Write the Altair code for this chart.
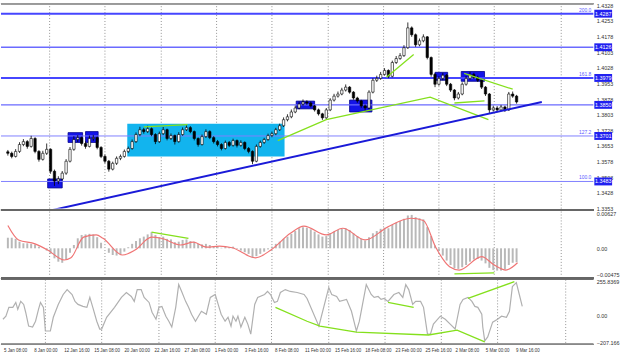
import altair as alt
import pandas as pd

# ---------------- data ----------------
first_open = 1.3625
closes = [1.3618, 1.3603, 1.3627, 1.3660, 1.3674, 1.3651, 1.3689, 1.3627, 1.3589, 1.3618,
          1.3637, 1.3532, 1.3485, 1.3495, 1.3523, 1.3580, 1.3637, 1.3684, 1.3693, 1.3665,
          1.3651, 1.3689, 1.3693, 1.3646, 1.3603, 1.3580, 1.3542, 1.3570, 1.3594, 1.3603,
          1.3627, 1.3641, 1.3674, 1.3708, 1.3731, 1.3722, 1.3736, 1.3708, 1.3674, 1.3712,
          1.3731, 1.3689, 1.3703, 1.3674, 1.3708, 1.3731, 1.3741, 1.3722, 1.3689, 1.3660,
          1.3698, 1.3722, 1.3693, 1.3674, 1.3660, 1.3641, 1.3670, 1.3656, 1.3679, 1.3656,
          1.3670, 1.3641, 1.3627, 1.3580, 1.3651, 1.3670, 1.3684, 1.3703, 1.3712, 1.3731,
          1.3750, 1.3779, 1.3793, 1.3816, 1.3835, 1.3854, 1.3864, 1.3859, 1.3845, 1.3826,
          1.3807, 1.3788, 1.3826, 1.3873, 1.3892, 1.3902, 1.3921, 1.3935, 1.3911, 1.3883,
          1.3869, 1.3845, 1.3835, 1.3911, 1.3968, 1.3977, 1.3996, 1.4015, 1.3987, 1.4053,
          1.4072, 1.4086, 1.4124, 1.4219, 1.4186, 1.4138, 1.4157, 1.4176, 1.4077, 1.3996,
          1.3949, 1.3977, 1.3992, 1.3949, 1.3921, 1.3883, 1.3902, 1.3949, 1.3977, 1.3996,
          1.3982, 1.3968, 1.3935, 1.3902, 1.3826, 1.3835, 1.3826, 1.3840, 1.3826, 1.3902,
          1.3892, 1.3864]
highs = [1.3634, 1.3626, 1.3638, 1.3671, 1.3686, 1.3681, 1.3702, 1.3695, 1.3633, 1.3630,
         1.3665, 1.3642, 1.3540, 1.3508, 1.3533, 1.3590, 1.3648, 1.3700, 1.3705, 1.3698,
         1.3675, 1.3703, 1.3706, 1.3698, 1.3652, 1.3612, 1.3586, 1.3578, 1.3603, 1.3612,
         1.3636, 1.3650, 1.3684, 1.3718, 1.3745, 1.3740, 1.3750, 1.3742, 1.3714, 1.3722,
         1.3744, 1.3736, 1.3713, 1.3708, 1.3719, 1.3742, 1.3752, 1.3748, 1.3727, 1.3694,
         1.3708, 1.3733, 1.3728, 1.3700, 1.3682, 1.3666, 1.3679, 1.3677, 1.3688, 1.3684,
         1.3680, 1.3675, 1.3648, 1.3632, 1.3660, 1.3679, 1.3692, 1.3712, 1.3722, 1.3740,
         1.3760, 1.3790, 1.3805, 1.3828, 1.3846, 1.3866, 1.3876, 1.3872, 1.3866, 1.3850,
         1.3832, 1.3812, 1.3835, 1.3882, 1.3903, 1.3914, 1.3932, 1.3948, 1.3940, 1.3916,
         1.3889, 1.3874, 1.3852, 1.3920, 1.3978, 1.3990, 1.4008, 1.4026, 1.4020, 1.4062,
         1.4084, 1.4098, 1.4136, 1.4245, 1.4226, 1.4192, 1.4168, 1.4188, 1.4180, 1.4082,
         1.4002, 1.3987, 1.4003, 1.3998, 1.3955, 1.3926, 1.3912, 1.3958, 1.3988, 1.4008,
         1.4004, 1.3990, 1.3973, 1.3940, 1.3907, 1.3846, 1.3844, 1.3850, 1.3846, 1.3912,
         1.3914, 1.3898]
lows = [1.3607, 1.3594, 1.3598, 1.3620, 1.3652, 1.3640, 1.3645, 1.3618, 1.3578, 1.3583,
        1.3610, 1.3520, 1.3462, 1.3470, 1.3488, 1.3515, 1.3574, 1.3630, 1.3672, 1.3655,
        1.3640, 1.3646, 1.3678, 1.3637, 1.3595, 1.3570, 1.3530, 1.3536, 1.3562, 1.3585,
        1.3597, 1.3619, 1.3635, 1.3668, 1.3700, 1.3712, 1.3715, 1.3700, 1.3662, 1.3668,
        1.3706, 1.3680, 1.3682, 1.3660, 1.3669, 1.3702, 1.3725, 1.3714, 1.3680, 1.3650,
        1.3655, 1.3692, 1.3686, 1.3665, 1.3651, 1.3632, 1.3636, 1.3648, 1.3650, 1.3646,
        1.3650, 1.3633, 1.3618, 1.3566, 1.3575, 1.3645, 1.3663, 1.3678, 1.3695, 1.3705,
        1.3725, 1.3744, 1.3771, 1.3786, 1.3810, 1.3829, 1.3846, 1.3850, 1.3838, 1.3818,
        1.3799, 1.3778, 1.3783, 1.3820, 1.3866, 1.3885, 1.3896, 1.3914, 1.3904, 1.3875,
        1.3860, 1.3836, 1.3822, 1.3830, 1.3905, 1.3960, 1.3970, 1.3990, 1.3978, 1.3982,
        1.4046, 1.4066, 1.4080, 1.4118, 1.4176, 1.4128, 1.4131, 1.4150, 1.4068, 1.3985,
        1.3935, 1.3942, 1.3968, 1.3940, 1.3912, 1.3872, 1.3876, 1.3896, 1.3942, 1.3970,
        1.3974, 1.3960, 1.3926, 1.3893, 1.3808, 1.3818, 1.3815, 1.3820, 1.3816, 1.3821,
        1.3884, 1.3856]

macd_hist = [0.0019, 0.0019, 0.0017, 0.0012, 0.0009, 0.0009, 0.0008, 0.0007, 0.0003, 0.0000,
             -0.0004, -0.0010, -0.0018, -0.0024, -0.0026, -0.0020, -0.0008, 0.0006, 0.0018, 0.0024,
             0.0025, 0.0026, 0.0025, 0.0020, 0.0010, 0.0000, -0.0008, -0.0012, -0.0013, -0.0011,
             -0.0006, 0.0002, 0.0008, 0.0013, 0.0018, 0.0021, 0.0025, 0.0029, 0.0024, 0.0020,
             0.0021, 0.0017, 0.0016, 0.0011, 0.0012, 0.0015, 0.0016, 0.0013, 0.0012, 0.0008,
             0.0007, 0.0008, 0.0006, 0.0004, 0.0003, 0.0001, 0.0003, 0.0002, 0.0003, -0.0001,
             -0.0004, -0.0007, -0.0010, -0.0017, -0.0014, -0.0010, -0.0006, -0.0002, 0.0003, 0.0008,
             0.0012, 0.0017, 0.0021, 0.0026, 0.0031, 0.0036, 0.0038, 0.0037, 0.0034, 0.0030,
             0.0025, 0.0021, 0.0022, 0.0027, 0.0030, 0.0033, 0.0035, 0.0036, 0.0033, 0.0027,
             0.0022, 0.0017, 0.0014, 0.0020, 0.0027, 0.0031, 0.0035, 0.0037, 0.0036, 0.0042,
             0.0046, 0.0049, 0.0053, 0.0059, 0.0060, 0.0056, 0.0054, 0.0052, 0.0038, 0.0022,
             0.0005, -0.0005, -0.0013, -0.0022, -0.0030, -0.0036, -0.0037, -0.0034, -0.0030, -0.0024,
             -0.0020, -0.0019, -0.0022, -0.0027, -0.0035, -0.0039, -0.0040, -0.0040, -0.0038, -0.0030,
             -0.0026, -0.0025]

signal_i = [0, 2.75, 7, 10.25, 14.5, 16.25, 19.5, 22.75, 24.5, 29.5, 32.75, 37, 39.5, 44.5,
            47.75, 51.25, 54.5, 57.75, 63.75, 67.75, 72.75, 76.25, 82, 86.25, 92, 97.75,
            103.75, 107, 110.25, 113.75, 116.25, 122, 125.25, 128.25, 131.25]
signal_v = [0.0041, 0.0015, 0.0008, -0.0003, -0.0021, -0.0017, 0.0020, 0.0024, 0.0018, -0.0012,
            -0.0003, 0.0020, 0.0018, 0.0006, 0.0011, 0.0002, 0.0004, 0.0001, -0.0017, -0.0003,
            0.0027, 0.0040, 0.0024, 0.0036, 0.0015, 0.0038, 0.0054, 0.0050, 0.0001, -0.0033,
            -0.0039, -0.0015, -0.0030, -0.0039, -0.0026]

cci_i = [0, 0.75, 1.5, 2.5, 3.25, 3.75, 4.5, 5.25, 5.75, 6.5, 7.5, 8.25, 9, 9.5, 10.25, 10.75,
         12, 12.75, 14, 15.25, 16.25, 17.5, 18.25, 19, 20.25, 21.25, 22, 22.75, 23.75, 24.5, 25,
         26.25, 28.25, 30, 31.25, 32.5, 33.25, 34, 35, 35.75, 37, 37.75, 38.75, 39.5, 40.25, 41.25,
         42, 42.75, 43.75, 44.5, 45.25, 46.25, 47, 47.75, 48.75, 49.5, 50.25, 51.5, 52.5, 53.75,
         54.5, 55.25, 56.25, 57, 57.75, 58.25, 59, 59.5, 60.25, 61.25, 62, 62.75, 63.75, 64.5,
         66.25, 67, 67.75, 68.75, 69.5, 70.25, 71.5, 72.75, 74.5, 76.25, 77, 80, 82.5, 83.25,
         84.5, 85.25, 87, 88.25, 89.5, 90.25, 92, 93.25, 94, 95, 95.75, 96.5, 97.5, 99, 100.25,
         101.25, 102, 102.75, 103.75, 104.5, 105.75, 106.5, 107.5, 108.25, 109, 110.75, 112,
         113.25, 114.5, 115.75, 116.5, 117.75, 118.75, 119.5, 120.25, 121.25, 121.5, 122, 122.75,
         124, 125.25, 126.25, 127.5, 128.25, 129, 130, 130.75, 131.5]
cci_v = [-28, -5, 62, 62, 99, 47, 107, 84, 25, -80, -87, -43, 47, 99, 62, -117,
         -117, -13, 84, 159, 196, 159, 107, 84, 69, 62, 137, 62, -43, -102, -102,
         -13, 62, 137, 174, 144, 107, 196, 196, 137, 99, 25, -28, 62, 69, -5,
         -43, -87, 62, 234, 182, 107, 62, 10, -43, -5, 32, 10, 137, 159,
         84, 10, -43, -13, -80, -5, -43, -5, -87, -13, -65, -140, 84, 137,
         159, 182, 159, 99, 107, 174, 196, 182, 174, 159, 129, -80, 211, 159,
         144, 107, 122, 32, -117, -43, 234, 159, 137, 144, 122, 129, 107, 159, 174,
         137, 234, 196, 84, 107, 107, 62, -140, -140, -65, -5, -28,
         -65, -102, 84, 122, 137, 107, 69, 62, 10, -87, -192, -162,
         -50, -28, -5, -13, 32, 219, 249, 159, 69]

# price levels (Fibonacci grid) and their tags
strong_levels = [1.4287, 1.3979]
medium_levels = [1.4126, 1.3850]
weak_levels = [1.3701, 1.3483]
fib_pct = ["200.0", "161.8", "127.2", "100.0"]
fib_price = [1.4287, 1.3979, 1.3701, 1.3483]
price_ticks = [1.4328, 1.4253, 1.4178, 1.4103, 1.4028, 1.3953, 1.3878, 1.3803, 1.3728,
               1.3653, 1.3578, 1.3503, 1.3428, 1.3353]

# boxes marking swing points
box_i1 = [10.25, 15.5, 20, 74.25, 88, 110, 116.75]
box_i2 = [14, 19.25, 23.25, 79, 93.75, 113.25, 122.75]
box_top = [1.3495, 1.3717, 1.3722, 1.3868, 1.3873, 1.4006, 1.4010]
box_bot = [1.3452, 1.3670, 1.3670, 1.3831, 1.3816, 1.3968, 1.3963]
range_i = [30.75, 71.25]
range_p = [1.3603, 1.3760]

trend_i = [10.75, 137.5]
trend_p = [1.3343, 1.3864]

main_green_seg = ["a", "a", "b", "b", "b", "b", "c", "c", "d", "d", "e", "e"]
main_green_i = [35, 46.25, 69.5, 82, 108.75, 123.75, 115, 122.75, 117.5, 130, 97.5, 104.5]
main_green_p = [1.3745, 1.3755, 1.3679, 1.3779, 1.3887, 1.3779, 1.3859, 1.3869, 1.4001, 1.3925,
                1.3982, 1.4091]
macd_green_seg = ["a", "a", "b", "b"]
macd_green_i = [37, 46.5, 115, 125.25]
macd_green_v = [0.0029, 0.0018, -0.0046, -0.0044]
cci_green_seg = ["a", "a", "a", "a", "a", "a", "a", "b", "b", "c", "c"]
cci_green_i = [69, 77, 80.25, 89.5, 107.75, 115, 122, 97.5, 104, 117.75, 129.5]
cci_green_v = [62, -43, -80, -125, -147, -110, -199, 99, 62, 129, 256]

week_grid = [10.75, 25, 39.5, 53.75, 68, 82.5, 96.75, 111, 125.25, 142.5]
date_labels = ["5 Jan 08:00", "8 Jan 00:00", "12 Jan 16:00", "15 Jan 08:00", "20 Jan 00:00",
               "22 Jan 16:00", "27 Jan 08:00", "1 Feb 00:00", "3 Feb 16:00", "8 Feb 08:00",
               "11 Feb 00:00", "15 Feb 16:00", "18 Feb 08:00", "23 Feb 00:00", "25 Feb 16:00",
               "2 Mar 08:00", "5 Mar 00:00", "9 Mar 16:00"]
date_pos = [0.25, 7.9, 15.5, 23.1, 30.75, 38.4, 46, 53.6, 61.25, 68.9, 76.5, 84.1, 91.75,
            99.4, 107, 114.6, 122.25, 129.9]

# ---------------- frames ----------------
n = len(closes)
opens = [first_open] + closes[:-1]
bars = pd.DataFrame({"i": list(range(n)), "open": opens, "close": closes,
                     "high": highs, "low": lows})
bars["dir"] = ["up" if c >= o else "down" for o, c in zip(opens, closes)]
macd_df = pd.DataFrame({"i": list(range(n)), "v": macd_hist})
sig_df = pd.DataFrame({"i": signal_i, "v": signal_v})
cci_df = pd.DataFrame({"i": cci_i, "v": cci_v})
grid_df = pd.DataFrame({"g": week_grid})
boxes = pd.DataFrame({"i1": box_i1, "i2": box_i2, "top": box_top, "bot": box_bot})
rng = pd.DataFrame({"i1": [range_i[0]], "i2": [range_i[1]], "top": [range_p[1]], "bot": [range_p[0]]})
trend = pd.DataFrame({"i": trend_i, "p": trend_p})
mg = pd.DataFrame({"seg": main_green_seg, "i": main_green_i, "p": main_green_p})
macdg = pd.DataFrame({"seg": macd_green_seg, "i": macd_green_i, "v": macd_green_v})
ccig = pd.DataFrame({"seg": cci_green_seg, "i": cci_green_i, "v": cci_green_v})
all_levels = strong_levels + medium_levels + weak_levels
tags = pd.DataFrame({"level": all_levels})
fibs = pd.DataFrame({"pct": fib_pct, "level": fib_price})
dates = pd.DataFrame({"i": date_pos, "label": date_labels})

W = 600
XS = alt.Scale(domain=[-0.5, 149.5], nice=False, zero=False)
FONT = "Liberation Sans"
GREEN = "#84e01c"


def X(f="i"):
    return alt.X(f"{f}:Q", scale=XS, axis=None)


PS = alt.Scale(domain=[1.3353, 1.4337], nice=False, zero=False)
p_axis = alt.Axis(orient="right", values=price_ticks, format=".4f", title=None)


def YP(f):
    return alt.Y(f"{f}:Q", scale=PS, axis=p_axis)


MS = alt.Scale(domain=[-0.0051, 0.0066], nice=False, zero=False)
m_axis = alt.Axis(orient="right", values=[0.00627, 0, -0.00475], title=None,
                  labelExpr="datum.value == 0 ? '0.00' : format(datum.value, '.5f')")


def YM(f):
    return alt.Y(f"{f}:Q", scale=MS, axis=m_axis)


CS = alt.Scale(domain=[-214, 271], nice=False, zero=False)
c_axis = alt.Axis(orient="right", values=[255.8369, 0, -207.166], title=None,
                  labelExpr="datum.value == 0 ? '0.00' : format(datum.value, '.4~f')")


def YC(f):
    return alt.Y(f"{f}:Q", scale=CS, axis=c_axis)


def grid_layer():
    return alt.Chart(grid_df).mark_rule(color="#777", strokeDash=[1, 2], strokeWidth=0.8).encode(x=X("g"))


# ---------------- main panel ----------------
top_border = alt.Chart(grid_df).mark_rule(color="#999", strokeWidth=1).encode(
    x=alt.value(0), x2=alt.value(W), y=alt.value(0.5))
range_rect = alt.Chart(rng).mark_rect(color="#12b4ee").encode(
    x=X("i1"), x2="i2", y=YP("top"), y2="bot")
box_rect = alt.Chart(boxes).mark_rect(color="#1414e8", stroke="#00008c", strokeWidth=0.8).encode(
    x=X("i1"), x2="i2", y=YP("top"), y2="bot")
lv_strong = alt.Chart(pd.DataFrame({"level": strong_levels})).mark_rule(
    color="#4646ff", strokeWidth=2).encode(y=YP("level"))
lv_medium = alt.Chart(pd.DataFrame({"level": medium_levels})).mark_rule(
    color="#6a6aff", strokeWidth=1.5).encode(y=YP("level"))
lv_weak = alt.Chart(pd.DataFrame({"level": weak_levels})).mark_rule(
    color="#8080ff", strokeWidth=1).encode(y=YP("level"))
fib_text = alt.Chart(fibs).mark_text(align="right", baseline="bottom", dy=-1, fontSize=5,
                                     font=FONT, color="#5a5aff").encode(
    x=alt.value(W - 2), y=YP("level"), text="pct:N")
wicks = alt.Chart(bars).mark_rule(color="black", strokeWidth=0.8).encode(
    x=X(), y=YP("low"), y2="high")
bodies = alt.Chart(bars).mark_bar(size=2.4, stroke="black", strokeWidth=0.6).encode(
    x=X(), y=YP("open"), y2="close",
    color=alt.Color("dir:N", scale=alt.Scale(domain=["up", "down"], range=["white", "black"]),
                    legend=None))
green_main = alt.Chart(mg).mark_line(color=GREEN, strokeWidth=1.3).encode(
    x=X(), y=YP("p"), detail="seg:N")
trend_line = alt.Chart(trend).mark_line(color="#1a1ad8", strokeWidth=2, clip=True).encode(
    x=X(), y=YP("p"))
tag_bg = alt.Chart(tags).mark_rule(color="#2020f0", strokeWidth=8).encode(
    x=alt.value(W + 1), x2=alt.value(W + 19), y=YP("level"))
tag_txt = alt.Chart(tags).mark_text(color="white", fontSize=5.5, font=FONT, align="center",
                                    baseline="middle").encode(
    x=alt.value(W + 10), y=YP("level"), text=alt.Text("level:Q", format=".4f"))

main = alt.layer(grid_layer(), top_border, range_rect, box_rect, lv_weak, lv_medium, lv_strong,
                 fib_text, wicks, bodies, green_main, trend_line, tag_bg, tag_txt).properties(
    width=W, height=208)

# ---------------- MACD panel ----------------
sep_m = alt.Chart(grid_df).mark_rule(color="#666666", strokeWidth=2).encode(
    x=alt.value(0), x2=alt.value(W), y=alt.value(-1.5))
hist = alt.Chart(macd_df).mark_bar(size=2, color="#b8b8b8").encode(
    x=X(), y=YM("v"), y2=alt.datum(0))
sig = alt.Chart(sig_df).mark_line(color="#f07474", strokeWidth=1.2, interpolate="monotone").encode(
    x=X(), y=YM("v"))
green_m = alt.Chart(macdg).mark_line(color=GREEN, strokeWidth=1.3).encode(
    x=X(), y=YM("v"), detail="seg:N")
macd = alt.layer(grid_layer(), hist, sig, green_m, sep_m).properties(width=W, height=66)

# ---------------- CCI panel ----------------
sep_c = alt.Chart(grid_df).mark_rule(color="#666666", strokeWidth=2).encode(
    x=alt.value(0), x2=alt.value(W), y=alt.value(-1.5))
bot_c = alt.Chart(grid_df).mark_rule(color="#888", strokeWidth=1).encode(
    x=alt.value(0), x2=alt.value(W), y=alt.value(65.5))
cci_line = alt.Chart(cci_df).mark_line(color="#b0b0b0", strokeWidth=1.2).encode(
    x=X(), y=YC("v"))
green_c = alt.Chart(ccig).mark_line(color=GREEN, strokeWidth=1.3).encode(
    x=X(), y=YC("v"), detail="seg:N")
date_txt = alt.Chart(dates).mark_text(align="left", baseline="top", fontSize=4.5, font=FONT,
                                      color="#333").encode(
    x=X(), y=alt.value(69), text="label:N")
cci = alt.layer(grid_layer(), cci_line, green_c, sep_c, bot_c, date_txt).properties(width=W, height=65)

chart = alt.vconcat(main, macd, cci, spacing=3, bounds="flush").resolve_scale(
    x="independent", y="independent", color="independent").properties(
    padding={"left": 0, "top": 0, "right": 0, "bottom": 0}, background="white").configure_view(
    stroke=None).configure_axis(
    labelFont=FONT, labelFontSize=5.5, labelColor="#333", domain=False, ticks=False, grid=False,
    labelPadding=3, labelOverlap=False, labelFlush=False)

chart.save("out.html", embed_options={"renderer": "svg", "actions": False})
